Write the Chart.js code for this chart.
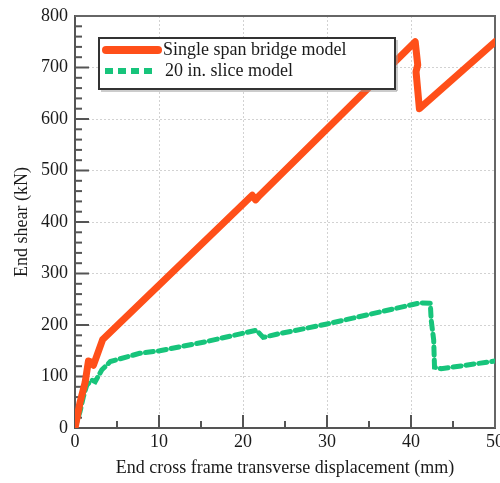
<!DOCTYPE html>
<html>
<head>
<meta charset="utf-8">
<script src="https://cdn.jsdelivr.net/npm/chart.js@4.4.1/dist/chart.umd.min.js"></script>
<style>
  html, body { margin: 0; padding: 0; background: #fff; }
  #wrap { width: 500px; height: 483px; }
</style>
</head>
<body>
<div id="wrap"><canvas id="c"></canvas></div>
<script>
// Valores
const seriesNames = ['Single span bridge model', '20 in. slice model'];

const spanX = [0, 0.6, 1.2, 1.6, 1.9, 2.2, 3.3, 21.1, 21.5, 22.0, 40.5, 40.8, 40.6, 41.0, 50];
const spanY = [0, 50, 88, 130, 128, 122, 172, 452, 443, 452, 750, 705, 692, 620, 750];

const sliceX = [0, 0.6, 1.0, 1.4, 2.0, 2.4, 3.2, 4.2, 7.7, 10.1, 15.7, 20.0, 21.6, 22.4, 24.0, 30.0, 41.1, 42.3, 42.4, 42.7, 42.8, 43.6, 50];
const sliceY = [0, 32, 61, 83, 93, 90, 113, 129, 145, 150, 168, 184, 190, 176, 182, 202, 243, 242, 210, 171, 118, 115, 130];

const xTicks = [0, 10, 20, 30, 40, 50];
const yTicks = [0, 100, 200, 300, 400, 500, 600, 700, 800];

const COLOR = {
  span:  '#ff4f19',
  slice: '#17c47b',
  axis:  '#555555',
  grid:  '#d2d2d2',
  text:  '#1a1a1a',
};
const FONT = '"Liberation Serif", "Times New Roman", serif';
const FS = 18;

const toPoints = (xs, ys) => xs.map((x, i) => ({ x, y: ys[i] }));

// Moldura, ticks internos e legenda
const framePlugin = {
  id: 'frame',
  beforeDatasetsDraw(chart) {
    const { ctx, chartArea: a, scales: { x, y } } = chart;
    ctx.save();
    ctx.strokeStyle = COLOR.axis;
    ctx.lineCap = 'butt';
    ctx.lineWidth = 2;
    // ticks x
    for (let v = 0; v <= 50; v += 5) {
      const px = x.getPixelForValue(v);
      const len = v % 10 === 0 ? 13 : 7;
      ctx.beginPath(); ctx.moveTo(px, a.bottom); ctx.lineTo(px, a.bottom - len); ctx.stroke();
    }
    // ticks y
    for (let v = 0; v <= 800; v += 20) {
      const py = y.getPixelForValue(v);
      const len = v % 100 === 0 ? 14 : 7;
      ctx.beginPath(); ctx.moveTo(a.left, py); ctx.lineTo(a.left + len, py); ctx.stroke();
    }
    // moldura superior e direita
    ctx.strokeStyle = '#666';
    ctx.beginPath();
    ctx.moveTo(a.left, a.top); ctx.lineTo(a.right, a.top); ctx.lineTo(a.right, a.bottom);
    ctx.stroke();
    ctx.restore();
  },
  afterDraw(chart) {
    const { ctx } = chart;
    const ds = chart.data.datasets;
    const box = { x: 99, y: 38, w: 296, h: 51 };
    ctx.save();
    ctx.fillStyle = '#fff';
    ctx.fillRect(box.x, box.y, box.w, box.h);
    ctx.strokeStyle = '#333';
    ctx.lineWidth = 2;
    ctx.strokeRect(box.x, box.y, box.w, box.h);
    ctx.strokeStyle = '#999';
    ctx.lineWidth = 1;
    ctx.beginPath();
    ctx.moveTo(box.x + box.w + 2, box.y + 2); ctx.lineTo(box.x + box.w + 2, box.y + box.h + 2);
    ctx.lineTo(box.x + 2, box.y + box.h + 2);
    ctx.stroke();

    const rows = [
      { y: 50, x0: 106, x1: 158, tx: 163 },
      { y: 71, x0: 105, x1: 152, tx: 165 },
    ];
    rows.forEach((r, i) => {
      const d = ds[i];
      ctx.strokeStyle = d.borderColor;
      ctx.lineWidth = i === 0 ? 8 : 6;
      ctx.lineCap = i === 0 ? 'round' : 'butt';
      ctx.setLineDash(d.borderDash || []);
      ctx.beginPath(); ctx.moveTo(r.x0, r.y); ctx.lineTo(r.x1, r.y); ctx.stroke();
      ctx.setLineDash([]);
      ctx.fillStyle = COLOR.text;
      ctx.font = FS + 'px ' + FONT;
      ctx.textBaseline = 'middle';
      ctx.fillText(d.label, r.tx, r.y);
    });
    ctx.restore();
  },
};

new Chart(document.getElementById('c').getContext('2d'), {
  type: 'scatter',
  data: {
    datasets: [
      {
        label: seriesNames[0],
        data: toPoints(spanX, spanY),
        showLine: true,
        borderColor: COLOR.span,
        backgroundColor: COLOR.span,
        borderWidth: 7,
        pointRadius: 0,
        tension: 0,
        borderJoinStyle: 'round',
        borderCapStyle: 'round',
      },
      {
        label: seriesNames[1],
        data: toPoints(sliceX, sliceY),
        showLine: true,
        borderColor: COLOR.slice,
        backgroundColor: COLOR.slice,
        borderWidth: 5,
        borderDash: [8, 5],
        pointRadius: 0,
        tension: 0,
        borderCapStyle: 'round',
      },
    ],
  },
  options: {
    responsive: true,
    maintainAspectRatio: false,
    animation: false,
    layout: { padding: { top: 16, right: 5, left: 0, bottom: 0 } },
    plugins: {
      legend: { display: false },
      tooltip: { enabled: false },
    },
    scales: {
      x: {
        type: 'linear',
        min: 0, max: 50,
        afterBuildTicks: s => { s.ticks = xTicks.map(v => ({ value: v })); },
        afterFit: s => { s.height = 55; s.paddingLeft = 0; s.paddingRight = 0; },
        ticks: { color: COLOR.text, font: { family: FONT, size: FS }, padding: 3, maxRotation: 0 },
        grid: { color: COLOR.grid, lineWidth: 1, drawTicks: false },
        border: { display: true, color: COLOR.axis, width: 2, dash: [2, 2] },
        title: {
          display: true,
          text: 'End cross frame transverse displacement (mm)',
          color: COLOR.text,
          font: { family: FONT, size: FS },
          padding: { top: 0, bottom: 4 },
        },
      },
      y: {
        type: 'linear',
        min: 0, max: 800,
        afterBuildTicks: s => { s.ticks = yTicks.map(v => ({ value: v })); },
        afterFit: s => { s.width = 75; s.paddingTop = 0; s.paddingBottom = 0; },
        ticks: { color: COLOR.text, font: { family: FONT, size: FS }, padding: 7 },
        grid: { color: COLOR.grid, lineWidth: 1, drawTicks: false },
        border: { display: true, color: COLOR.axis, width: 2, dash: [2, 2] },
        title: {
          display: true,
          text: 'End shear (kN)',
          color: COLOR.text,
          font: { family: FONT, size: FS },
          padding: { top: 11, bottom: 0 },
        },
      },
    },
  },
  plugins: [framePlugin],
});
</script>
</body>
</html>
